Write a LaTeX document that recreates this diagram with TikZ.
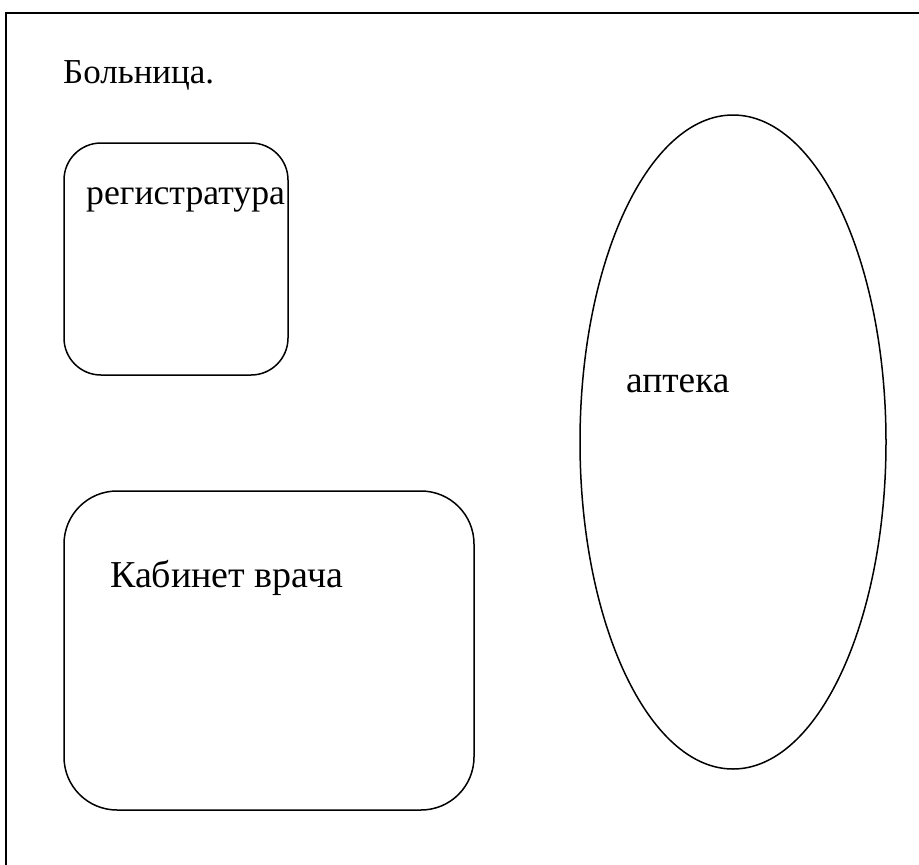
\documentclass[tikz,border=0pt]{standalone}
\usepackage{fontspec}
\setmainfont{Liberation Serif}
\usetikzlibrary{shapes.geometric}
\begin{document}
\begin{tikzpicture}[x=1pt,y=-1pt,
  frameline/.style={line width=2pt},
  room/.style={draw,line width=1.5pt},
  label/.style={anchor=base west,inner sep=0pt,font=\fontsize{#1}{#1}\selectfont},
  label/.default=35]
\useasboundingbox (0,0) rectangle (919,865);
% building outline (continues past the right and bottom edges)
\draw[frameline] (6,875) -- (6,13) -- (930,13);
% rooms
\draw[room,rounded corners=37pt] (64,143) rectangle (288,375);
\draw[room,rounded corners=53pt] (64,491) rectangle (474,810);
\draw[room] (733,442) ellipse [x radius=153, y radius=327];
% labels
\node[label=35] (title) at (63,83) {Больница.};
\node[label=35.7] (reg) at (86,204) {регистратура};
\node[label=38] (doc) at (110,587) {Кабинет врача};
\node[label=37.4] (pharm) at (626,392) {аптека};
\end{tikzpicture}
\end{document}
